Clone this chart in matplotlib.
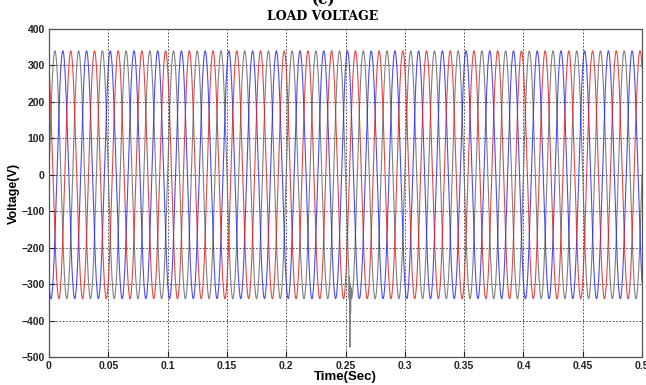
import numpy as np
import matplotlib.pyplot as plt

# three-phase load voltage
phase_colors = ["#606060", "#2020ee", "#e01818"]
phase_shift_deg = [0, -120, 120]
amplitude = 340.0      # V, peak
freq = 50.0            # Hz
t_end = 0.5

# fault transient on the grey phase around 0.25 s
spike_t = [0.2528, 0.2531, 0.2534, 0.2537, 0.2540, 0.2543, 0.2546, 0.2549]
spike_v = [-290, -340, -280, -473, -300, -380, -310, -335]

xticks = [0, 0.05, 0.1, 0.15, 0.2, 0.25, 0.3, 0.35, 0.4, 0.45, 0.5]
xtick_labels = ["0", "0.05", "0.1", "0.15", "0.2", "0.25", "0.3", "0.35", "0.4", "0.45", "0.5"]
yticks = list(range(-500, 401, 100))

t = np.linspace(0, t_end, 20001)

fig = plt.figure(figsize=(6.46, 3.85), dpi=100)
ax = fig.add_axes([49 / 646, 1 - 357 / 385, 593 / 646, 328 / 385])

for k, (c, ph) in enumerate(zip(phase_colors, phase_shift_deg)):
    v = amplitude * np.sin(2 * np.pi * freq * t + np.deg2rad(ph))
    if k == 0:
        tt = np.concatenate([t[t < spike_t[0]], spike_t, t[t > spike_t[-1]]])
        vv = np.concatenate([v[t < spike_t[0]], spike_v, v[t > spike_t[-1]]])
        ax.plot(tt, vv, color=c, lw=0.8, alpha=0.8)
    else:
        ax.plot(t, v, color=c, lw=0.8, alpha=0.8)

ax.set_xlim(0, 0.5)
ax.set_ylim(-500, 400)
ax.set_xticks(xticks)
ax.set_xticklabels(xtick_labels)
ax.set_yticks(yticks)
ax.grid(True, color="#333333", linestyle=(0, (2, 2)), linewidth=0.6)
ax.tick_params(direction="in", length=4, labelsize=7.5, pad=3, colors="#222222")
for lab in ax.get_xticklabels() + ax.get_yticklabels():
    lab.set_fontweight("bold")
    lab.set_family("Liberation Sans")
for s in ax.spines.values():
    s.set_color("#555555")
    s.set_linewidth(0.9)

ax.set_xlabel("Time(Sec)", fontsize=9.5, fontweight="bold", family="Liberation Sans", labelpad=0)
ax.set_ylabel("Voltage(V)", fontsize=9, fontweight="bold", family="Liberation Sans")
ax.yaxis.set_label_coords(-29 / 593, 0.5)
fig.text(0.5, 1 - 16 / 385, "LOAD VOLTAGE", ha="center", va="center", fontsize=9,
         fontweight="bold", family="DejaVu Serif")
fig.text(0.5, 1.0, "(c)", ha="center", va="center", fontsize=11, fontweight="bold", family="DejaVu Serif")

plt.savefig("out.png", dpi=100)
